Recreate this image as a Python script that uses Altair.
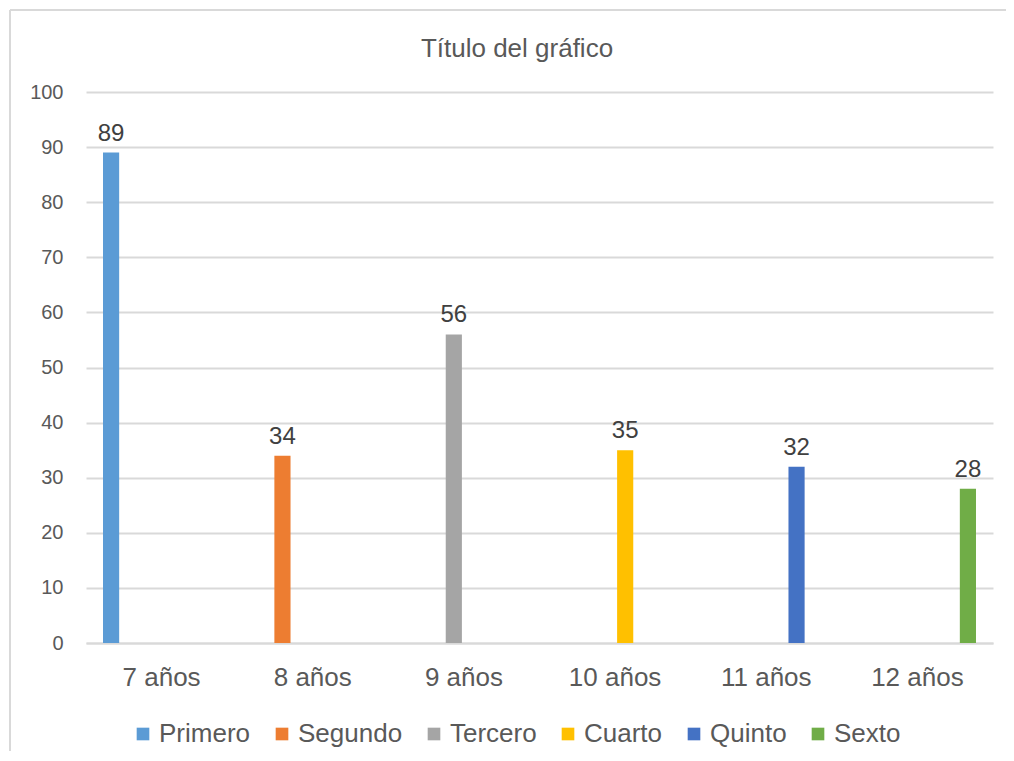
import altair as alt
import pandas as pd

categories = ["7 años", "8 años", "9 años", "10 años", "11 años", "12 años"]
series = ["Primero", "Segundo", "Tercero", "Cuarto", "Quinto", "Sexto"]
values = [89, 34, 56, 35, 32, 28]
colors = ["#5B9BD5", "#ED7D31", "#A5A5A5", "#FFC000", "#4472C4", "#70AD47"]
y_ticks = [0, 10, 20, 30, 40, 50, 60, 70, 80, 90, 100]
title_text = "Título del gráfico"

df = pd.DataFrame({"cat": categories, "serie": series, "valor": values})
one = pd.DataFrame({"t": [title_text]})

TXT = "#595959"
GRID = "#D9D9D9"
FONT = "Liberation Sans"

x_enc = alt.X("cat:N", sort=categories,
              scale=alt.Scale(domain=categories, paddingInner=0.225, paddingOuter=0.1125),
              axis=alt.Axis(title=None, labelAngle=0, ticks=False, domainColor=GRID,
                            domainWidth=2, labelFontSize=26, labelColor=TXT,
                            labelPadding=21, labelFont=FONT))
xo_enc = alt.XOffset("serie:N", sort=series,
                     scale=alt.Scale(domain=series, paddingInner=0.2, paddingOuter=0))
y_enc = alt.Y("valor:Q", scale=alt.Scale(domain=[0, 100], nice=False),
              axis=alt.Axis(title=None, values=y_ticks, ticks=False, domain=False,
                            gridColor=GRID, gridWidth=2, labelFontSize=20,
                            labelColor=TXT, labelPadding=23, labelFont=FONT))

bars = alt.Chart(df).mark_bar().encode(
    x=x_enc, xOffset=xo_enc, y=y_enc,
    color=alt.Color("serie:N", sort=series,
                    scale=alt.Scale(domain=series, range=colors),
                    legend=alt.Legend(title=None, orient="none", direction="horizontal",
                                      columns=6, legendX=44, legendY=629,
                                      symbolType="square", symbolSize=160,
                                      symbolStrokeWidth=0, labelFontSize=26,
                                      labelColor=TXT, labelFont=FONT,
                                      labelOffset=3, columnPadding=18)),
)

labels = alt.Chart(df).mark_text(baseline="alphabetic", dy=-12, fontSize=24,
                                 color="#404040", font=FONT).encode(
    x=alt.X("cat:N", sort=categories), xOffset=alt.XOffset("serie:N", sort=series),
    y="valor:Q", text="valor:Q")

title = alt.Chart(one).mark_text(baseline="alphabetic", align="center", fontSize=26,
                                 color=TXT, font=FONT).encode(
    x=alt.value(431), y=alt.value(-35), text="t:N")

top_line = alt.Chart(one).mark_rule(stroke=GRID, strokeWidth=2).encode(
    x=alt.value(-76), x2=alt.value(1200), y=alt.value(-82))
left_line = alt.Chart(one).mark_rule(stroke=GRID, strokeWidth=2).encode(
    x=alt.value(-76), y=alt.value(-82), y2=alt.value(1200))

chart = alt.layer(bars, labels, title, top_line, left_line).properties(
    width=907, height=551,
    autosize=alt.AutoSizeParams(type="none"),
    padding={"left": 78, "top": 84, "right": 13, "bottom": 108},
).configure_view(stroke=None)

chart.save("out.html", embed_options={"renderer": "svg", "actions": False})
